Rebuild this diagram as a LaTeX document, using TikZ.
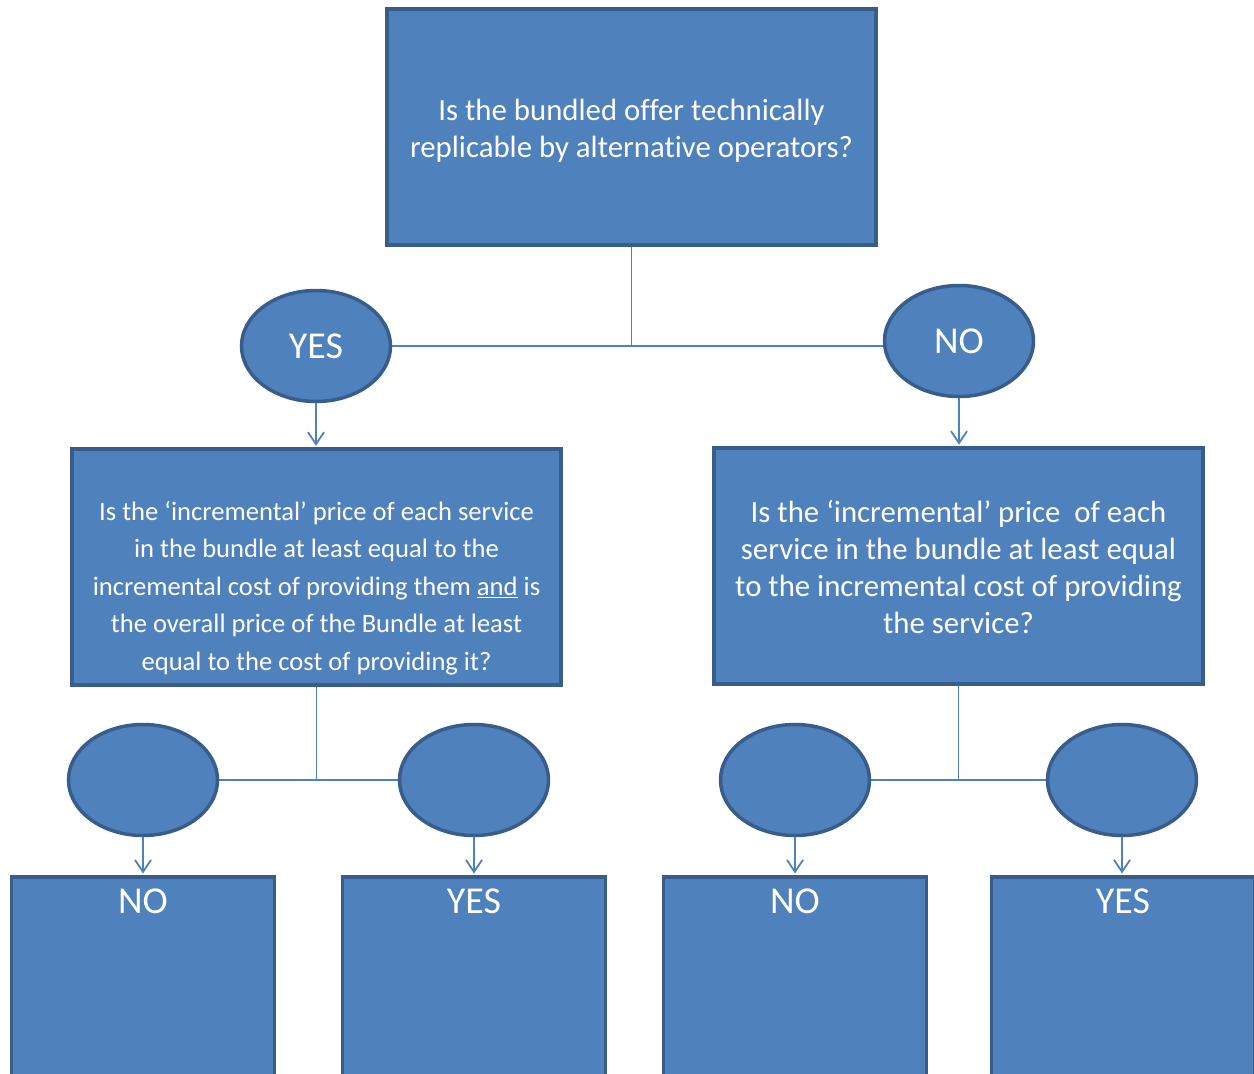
\documentclass[tikz,border=0pt]{standalone}
\usepackage{fontspec}
\setmainfont[Ligatures=NoCommon]{Carlito}
\usetikzlibrary{shapes.geometric,arrows.meta,backgrounds,calc}
\definecolor{boxfill}{HTML}{4F81BD}
\definecolor{boxborder}{HTML}{385D8A}
\definecolor{linecol}{HTML}{4F81BD}
\tikzset{
  box/.style={rectangle, draw=boxborder, fill=boxfill, line width=3.5pt, inner sep=0pt, text=white, align=center, minimum width=489pt, minimum height=236pt},
  boxtext/.style={text=white, align=center, inner sep=0pt},
  oval/.style={ellipse, draw=boxborder, fill=boxfill, line width=3.5pt, minimum width=149pt, minimum height=111pt, inner sep=0pt, text=white, font=\fontsize{38}{40}\selectfont},
  link/.style={draw=linecol, line width=1.8pt},
  arr/.style={link, -{Straight Barb[length=12pt,width=16pt]}, shorten >=1.5pt},
  endbox/.style={rectangle, draw=boxborder, fill=boxfill, line width=3.5pt, inner sep=0pt, minimum width=263pt, minimum height=236pt, anchor=north},
  endlabel/.style={text=white, inner sep=0pt, font=\fontsize{38}{40}\selectfont}
}
\begin{document}
\begin{tikzpicture}[x=1pt,y=-1pt]
\useasboundingbox (0,0) rectangle (1254,1074);
\clip (0,0) rectangle (1254,1074);

% question boxes
\node[box] (q1) at (631.5,127) {};
\node[boxtext, font=\fontsize{30.8}{37}\selectfont] (q1t) at ($(q1.center)+(0,4)$)
  {Is the bundled offer technically\\replicable by alternative operators?};
\node[box] (q2) at (316.5,567) {};
\node[boxtext, font=\fontsize{26.6}{37.5}\selectfont] (q2t) at ($(q2.center)+(0,21)$)
  {Is the ‘incremental’ price of each service\\in the bundle at least equal to the\\incremental cost of providing them \underline{and} is\\the overall price of the Bundle at least\\equal to the cost of providing it?};
\node[box] (q3) at (958.5,566) {};
\node[boxtext, font=\fontsize{30.8}{37}\selectfont] (q3t) at ($(q3.center)+(0,1)$)
  {Is the ‘incremental’ price\ \ of each\\service in the bundle at least equal\\to the incremental cost of providing\\the service?};

% first-level ellipses
\node[oval] (y1) at (316,346) {YES};
\node[oval] (n1) at (959,341) {NO};

% second-level ellipses
\node[oval] (a1) at (143,780) {};
\node[oval] (a2) at (474,780) {};
\node[oval] (a3) at (795,780) {};
\node[oval] (a4) at (1122,780) {};

% end boxes
\node[endbox] (b1) at (143,875) {};
\node[endbox] (b2) at (474,875) {};
\node[endbox] (b3) at (795,875) {};
\node[endbox] (b4) at (1123,875) {};
\node[endlabel] (b1t) at ($(b1.north)+(0,26)$) {NO};
\node[endlabel] (b2t) at ($(b2.north)+(0,26)$) {YES};
\node[endlabel] (b3t) at ($(b3.north)+(0,26)$) {NO};
\node[endlabel] (b4t) at ($(b4.north)+(0,26)$) {YES};

% connectors
\begin{scope}[on background layer]
\draw[link] (q1.south) -- (q1.south |- y1.east);
\draw[link] (y1.east) -- (n1.west |- y1.east);
\draw[link] (q2.south) -- (q2.south |- a1.east);
\draw[link] (a1.east) -- (a2.west);
\draw[link] (q3.south) -- (q3.south |- a3.east);
\draw[link] (a3.east) -- (a4.west);
\end{scope}

\draw[arr] (y1.south) -- (y1.south |- q2.north);
\draw[arr] (n1.south) -- (n1.south |- q3.north);
\draw[arr] (a1.south) -- (a1.south |- b1.north);
\draw[arr] (a2.south) -- (a2.south |- b2.north);
\draw[arr] (a3.south) -- (a3.south |- b3.north);
\draw[arr] (a4.south) -- (a4.south |- b4.north);
\end{tikzpicture}
\end{document}
